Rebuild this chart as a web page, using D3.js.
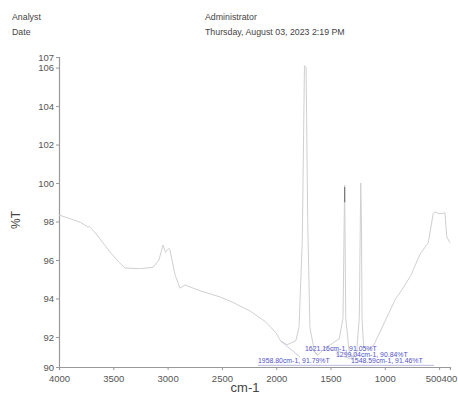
<!DOCTYPE html>
<html><head><meta charset="utf-8">
<script src="https://cdn.jsdelivr.net/npm/d3@7"></script>
<style>body{margin:0;background:#fff;} svg{display:block;font-family:"Liberation Sans",Arial,sans-serif;}</style>
</head><body>
<script>
// spectrum: wavenumber (cm-1) and %T
const wavenumbers = [4000,3900,3800,3733,3720,3650,3530,3450,3392,3250,3134,3080,3042,3020,2990,2978,2930,2886,2840,2700,2517,2400,2241,2100,2000,1958.8,1900,1820,1790,1760,1740,1725,1710,1690,1650,1621,1590,1548,1500,1420,1385,1370,1360,1330,1299,1260,1235,1222,1215,1210,1195,1150,1100,1000,900,860,760,676,600,555,540,500,446,430,400];
const transmittance = [98.34,98.15,97.95,97.71,97.75,97.3,96.41,95.9,95.58,95.55,95.62,96.0,96.78,96.4,96.6,96.5,95.2,94.54,94.7,94.4,94.08,93.8,93.35,92.8,92.2,91.79,91.6,91.8,92.5,97,106.1,106,98,92.5,91.3,91.05,91.2,91.46,91.6,91.9,93,99.9,93,91.3,90.84,91.2,93,100.0,98.0,93,91.5,91.3,91.6,92.8,94.0,94.3,95.2,96.3,96.9,98.4,98.5,98.4,98.45,97.2,96.9];
const xTicks = [4000,3500,3000,2500,2000,1500,1000,500,400];
const xTickLabels = ["4000","3500","3000","2500","2000","1500","1000","500","400"];
const yTicks = [90.44,92,94,96,98,100,102,104,106,106.55];
const yTickLabels = ["90","92","94","96","98","100","102","104","106","107"];
const peakLabels = ["1621.16cm-1, 91.05%T","1299.04cm-1, 90.84%T","1958.80cm-1, 91.79%T","1548.59cm-1, 91.46%T"];
const peakWn = [1621.16,1299.04,1958.80,1548.59];
const peakT = [91.05,90.84,91.79,91.46];

const W=458,H=396;
const svg=d3.select("body").append("svg").attr("width",W).attr("height",H);
const x=d3.scaleLinear().domain([4000,400]).range([59,450]);
const y=d3.scaleLinear().domain([90.44,106.55]).range([367,57]);

// header
const hdr=svg.append("g").attr("font-size",8.8).attr("fill","#444");
hdr.append("text").attr("x",12).attr("y",20).text("Analyst");
hdr.append("text").attr("x",12).attr("y",35).text("Date");
hdr.append("text").attr("x",205).attr("y",20).text("Administrator");
hdr.append("text").attr("x",205).attr("y",35).text("Thursday, August 03, 2023 2:19 PM");

// axes
const xAxis=svg.append("g").attr("transform","translate(0,367)")
  .call(d3.axisBottom(x).tickValues(xTicks).tickSize(3).tickFormat((d,i)=>xTickLabels[i]));
const yAxis=svg.append("g").attr("transform","translate(59,0)")
  .call(d3.axisLeft(y).tickValues(yTicks).tickSize(3).tickFormat((d,i)=>yTickLabels[i]));
[xAxis,yAxis].forEach(a=>{
  a.select(".domain").attr("stroke","#999").attr("stroke-width",1.2);
  a.selectAll(".tick line").attr("stroke","#999");
  a.selectAll("text").attr("fill","#555").attr("font-size",9.5).attr("font-family","Liberation Sans, Arial, sans-serif");
});
xAxis.selectAll("text").attr("dy","0.9em");
yAxis.selectAll("text").attr("dx","1px");
xAxis.selectAll(".tick").filter(d=>d===500).select("text").attr("text-anchor","end").attr("dx","2px");
xAxis.selectAll(".tick").filter(d=>d===400).select("text").attr("text-anchor","start").attr("dx","-9px");

// axis titles
svg.append("text").attr("transform","translate(20,220) rotate(-90)").attr("text-anchor","middle")
  .attr("font-size",12).attr("fill","#444").text("%T");
svg.append("text").attr("x",245).attr("y",392).attr("text-anchor","middle")
  .attr("font-size",13).attr("fill","#444").text("cm-1");

// spectrum
const data=wavenumbers.map((w,i)=>[w,transmittance[i]]);
svg.append("path").datum(data).attr("fill","none").attr("stroke","#d0d0d0").attr("stroke-width",1)
  .attr("d",d3.line().x(d=>x(d[0])).y(d=>y(d[1])));
// peak marker
svg.append("line").attr("x1",x(1370)).attr("x2",x(1370)).attr("y1",y(99.8)).attr("y2",y(99.0))
  .attr("stroke","#777").attr("stroke-width",1.2);

// peak labels
const labPos=[[305,351],[336,357],[258,363],[351,363]];
const lg=svg.append("g").attr("font-size",6.9).attr("fill","#5252c8");
peakLabels.forEach((t,i)=>{
  lg.append("text").attr("x",labPos[i][0]).attr("y",labPos[i][1]).text(t);
});
// leader lines
const leaders=[[0,310,346],[1,336,354],[2,300,357],[3,356,357]];
leaders.forEach(([i,lx,ly])=>{
  svg.append("line").attr("x1",x(peakWn[i])).attr("y1",y(peakT[i])).attr("x2",lx).attr("y2",ly)
    .attr("stroke","#aaaacc").attr("stroke-width",0.6);
});
svg.append("line").attr("x1",258).attr("x2",434).attr("y1",365.3).attr("y2",365.3).attr("stroke","#8888cc").attr("stroke-width",0.6);
</script>
</body></html>
